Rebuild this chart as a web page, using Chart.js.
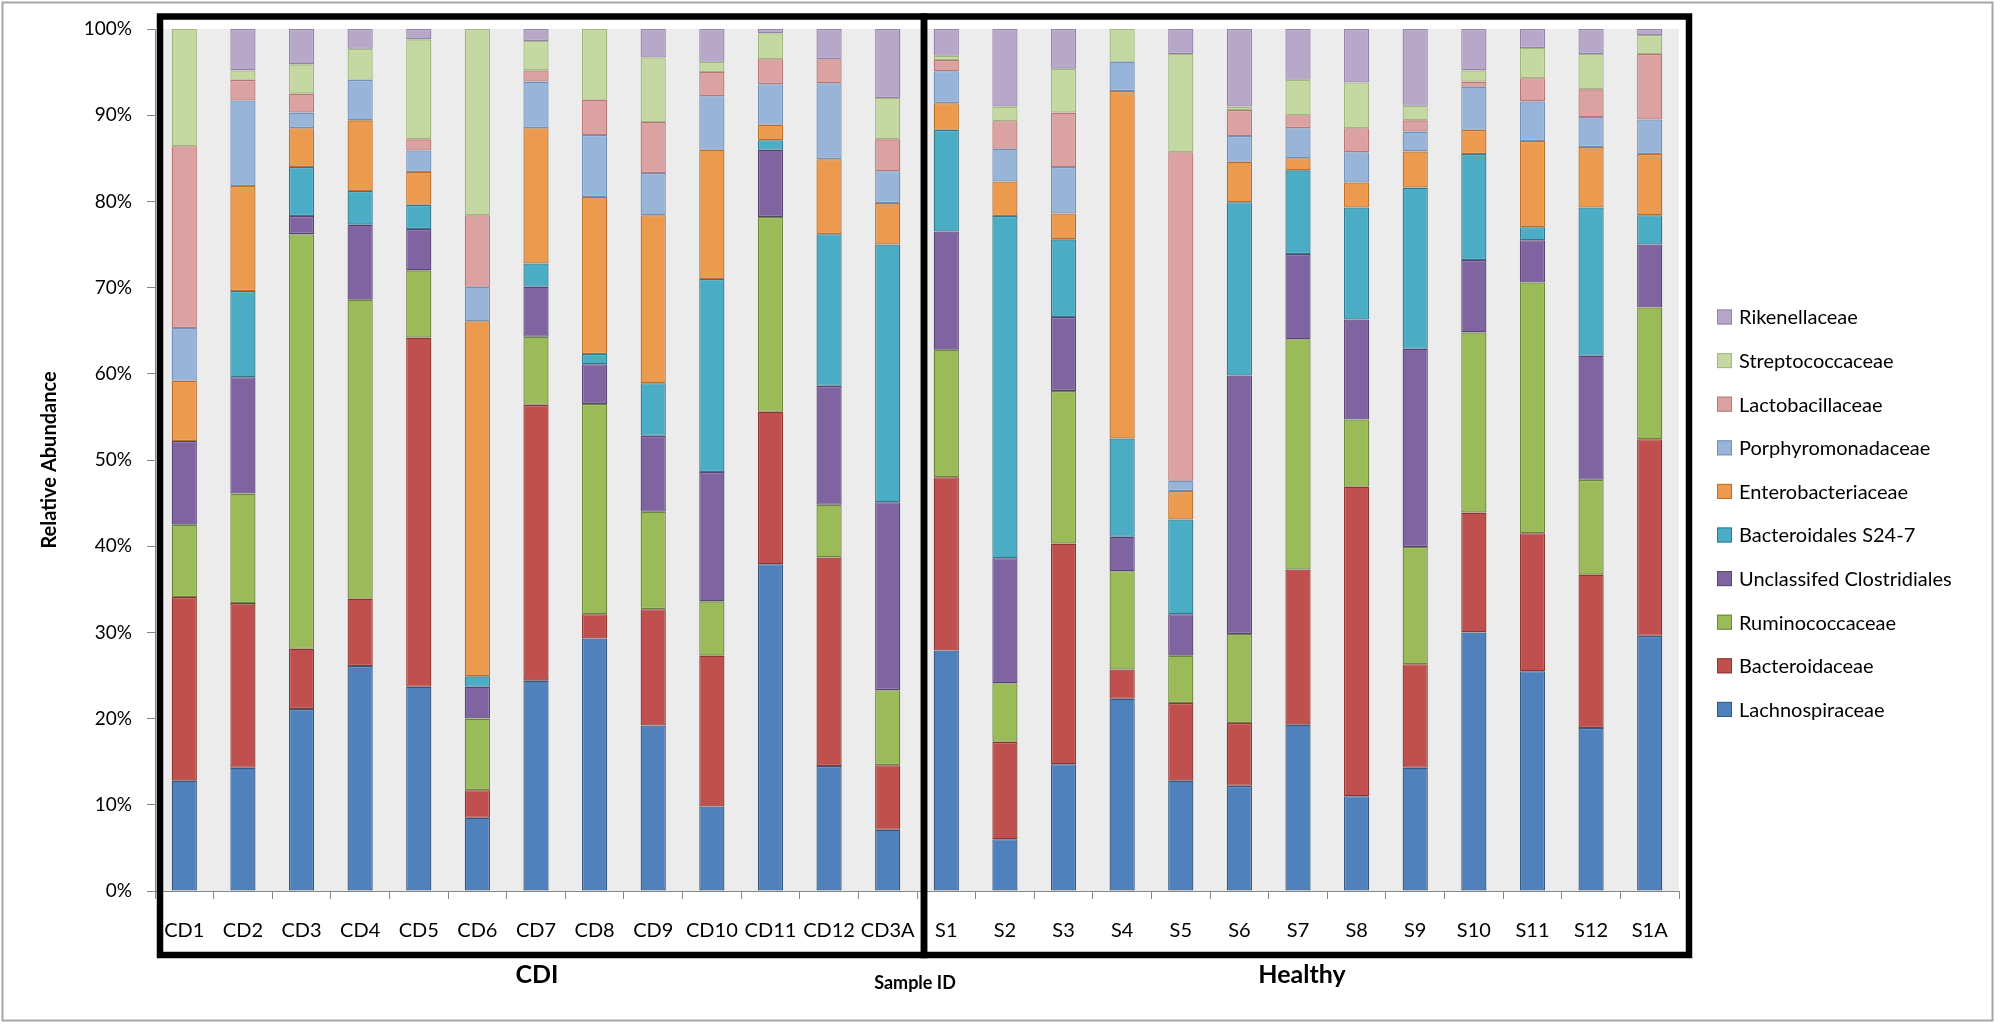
<!DOCTYPE html>
<html>
<head>
<meta charset="utf-8">
<script src="https://cdn.jsdelivr.net/npm/chart.js@4.4.0/dist/chart.umd.min.js"></script>
<style>
  html, body { margin: 0; padding: 0; background: #ffffff; }
  #wrap { width: 2000px; height: 1025px; }
</style>
</head>
<body>
<div id="wrap"><canvas id="c" width="2000" height="1025"></canvas></div>
<script>
// ---------- DATA ----------
const categories = ['CD1','CD2','CD3','CD4','CD5','CD6','CD7','CD8','CD9','CD10','CD11','CD12','CD3A',
                    'S1','S2','S3','S4','S5','S6','S7','S8','S9','S10','S11','S12','S1A'];
const yTicks = [0,10,20,30,40,50,60,70,80,90,100];

const lachnospiraceae   = [12.8,14.3,21.1,26.1,23.7,8.5,24.4,29.3,19.2,9.8,37.9,14.5,7.1, 27.9,6.0,14.7,22.3,12.8,12.2,19.3,11.0,14.3,30.0,25.5,18.9,29.6];
const bacteroidaceae    = [21.3,19.1,7.0,7.8,40.5,3.2,32.0,2.8,13.5,17.5,17.7,24.2,7.5, 20.1,11.3,25.6,3.4,9.0,7.3,18.0,35.9,12.0,13.9,16.0,17.8,22.8];
const ruminococcaceae   = [8.4,12.7,48.1,34.7,7.8,8.3,7.9,24.4,11.3,6.3,22.6,6.1,8.7, 14.8,6.8,17.7,11.4,5.5,10.3,26.7,7.8,13.6,20.9,29.1,11.0,15.3];
const unclClostridiales = [9.7,13.5,2.1,8.7,4.8,3.7,5.8,4.6,8.8,15.0,7.8,13.8,21.8, 13.7,14.5,8.6,4.0,4.8,30.0,9.9,11.6,23.0,8.4,4.9,14.4,7.3];
const bacteroidalesS247 = [0,10.0,5.7,3.9,2.8,1.2,2.7,1.2,6.1,22.4,1.1,17.6,29.9, 11.8,39.7,9.0,11.4,11.0,20.1,9.7,13.0,18.7,12.3,1.5,17.2,3.4];
const enterobacteriaceae= [7.0,12.2,4.5,8.2,3.8,41.2,15.7,18.2,19.5,15.0,1.8,8.7,4.8, 3.1,4.0,3.0,40.3,3.3,4.7,1.4,2.9,4.2,2.8,10.0,7.0,7.1];
const porphyromonadaceae= [6.1,9.9,1.8,4.7,2.5,4.0,5.4,7.2,4.9,6.2,4.7,8.8,3.7, 3.7,3.8,5.4,3.4,1.2,3.0,3.5,3.5,2.3,5.0,4.6,3.5,4.0];
const lactobacillaceae  = [21.1,2.4,2.2,0,1.3,8.3,1.3,4.1,5.9,2.8,2.9,2.8,3.7, 1.3,3.2,6.3,0,38.1,3.0,1.5,2.8,1.3,0.6,2.7,3.2,7.6];
const streptococcaceae  = [13.6,1.1,3.4,3.6,11.6,21.6,3.4,8.2,7.5,1.2,3.0,0,4.8, 0.5,1.7,5.1,3.8,11.4,0.4,4.1,5.3,1.7,1.3,3.5,4.1,2.2];
const rikenellaceae     = [0,4.8,4.1,2.3,1.2,0,1.4,0,3.3,3.8,0.5,3.5,8.0, 3.1,9.0,4.6,0,2.9,9.0,5.9,6.2,8.9,4.8,2.2,2.9,0.7];

const seriesNames = ['Lachnospiraceae','Bacteroidaceae','Ruminococcaceae','Unclassifed Clostridiales',
  'Bacteroidales S24-7','Enterobacteriaceae','Porphyromonadaceae','Lactobacillaceae','Streptococcaceae','Rikenellaceae'];
const seriesValues = [lachnospiraceae,bacteroidaceae,ruminococcaceae,unclClostridiales,bacteroidalesS247,
  enterobacteriaceae,porphyromonadaceae,lactobacillaceae,streptococcaceae,rikenellaceae];
const fillColors = ['#4F81BD','#C0504D','#9BBB59','#8064A2','#4BACC6','#EB9A4E','#98B4D8','#DBA2A1','#C6D8A1','#B7A8C9'];
const edgeColors = ['#34597F','#8A3634','#6C853C','#584573','#31788C','#B86E2C','#7391B8','#B57775','#A2B57C','#9483A8'];

// ---------- CHART ----------
const PLOT = { left: 155, right: 1679, top: 29, bottom: 891 };

const decor = {
  id: 'decor',
  beforeDraw(chart) {
    const ctx = chart.ctx, a = chart.chartArea;
    ctx.save();
    ctx.fillStyle = '#ffffff';
    ctx.fillRect(0, 0, chart.width, chart.height);
    ctx.fillStyle = '#ECECEC';
    ctx.fillRect(a.left, a.top, a.right - a.left, a.bottom - a.top);
    ctx.restore();
  },
  afterDraw(chart) {
    const ctx = chart.ctx;
    ctx.save();
    // outer frame
    ctx.strokeStyle = '#A6A6A6';
    ctx.lineWidth = 2;
    ctx.strokeRect(2.5, 2.5, 1990, 1018);
    // group boxes
    ctx.strokeStyle = '#000000';
    ctx.lineWidth = 6.5;
    ctx.strokeRect(160, 16.5, 764, 938.5);
    ctx.strokeRect(924, 16.5, 765, 938.5);
    // group labels
    ctx.fillStyle = '#000000';
    ctx.textAlign = 'center';
    ctx.textBaseline = 'middle';
    ctx.font = 'bold 25px Lato';
    ctx.fillText('CDI', 537, 975);
    ctx.fillText('Healthy', 1302, 975);
    ctx.font = 'bold 18px Lato';
    ctx.fillText('Sample ID', 915, 983);
    // legend (reverse order)
    ctx.textAlign = 'left';
    ctx.font = '20px Lato';
    const ds = chart.data.datasets;
    for (let k = 0; k < ds.length; k++) {
      const i = ds.length - 1 - k;
      const cy = 317 + 43.6 * k;
      ctx.fillStyle = ds[i].backgroundColor;
      ctx.fillRect(1717, cy - 7.5, 15, 15);
      ctx.strokeStyle = ds[i].borderColor;
      ctx.lineWidth = 1;
      ctx.strokeRect(1717.5, cy - 7, 14, 14);
      ctx.fillStyle = '#000000';
      ctx.fillText(ds[i].label, 1739, cy + 1);
    }
    ctx.restore();
  }
};

const datasets = seriesNames.map((name, i) => ({
  label: name,
  data: seriesValues[i],
  backgroundColor: fillColors[i],
  borderColor: edgeColors[i],
  borderWidth: 1.3,
  borderSkipped: false,
  categoryPercentage: 1.0,
  barPercentage: 0.43
}));

new Chart(document.getElementById('c'), {
  type: 'bar',
  data: { labels: categories, datasets },
  plugins: [decor],
  options: {
    responsive: false,
    animation: false,
    devicePixelRatio: 1,
    layout: { padding: { left: 0, right: 2000 - PLOT.right, top: PLOT.top, bottom: 0 } },
    plugins: { legend: { display: false }, tooltip: { enabled: false } },
    scales: {
      x: {
        stacked: true,
        afterFit(s) { s.height = 1025 - PLOT.bottom; },
        grid: { drawOnChartArea: false, drawTicks: true, tickLength: 8, color: '#868686', offset: true },
        border: { display: true, color: '#868686', width: 1 },
        ticks: { color: '#000000', padding: 20, maxRotation: 0, autoSkip: false,
                 font: { family: "'Liberation Sans Narrow', Lato", size: 20 } }
      },
      y: {
        stacked: true,
        min: 0, max: 100,
        afterFit(s) { s.width = PLOT.left; },
        afterBuildTicks(s) { s.ticks = yTicks.map(v => ({ value: v })); },
        grid: { drawOnChartArea: false, drawTicks: true, tickLength: 8, color: '#868686' },
        border: { display: true, color: '#868686', width: 1 },
        ticks: { color: '#000000', padding: 15, font: { family: 'Lato', size: 19 },
                 callback: v => v + '%' },
        title: { display: true, text: 'Relative Abundance', color: '#000000',
                 font: { family: 'Lato', size: 20, weight: 'bold' }, padding: { top: 38, bottom: 0 } }
      }
    }
  }
});
</script>
</body>
</html>
